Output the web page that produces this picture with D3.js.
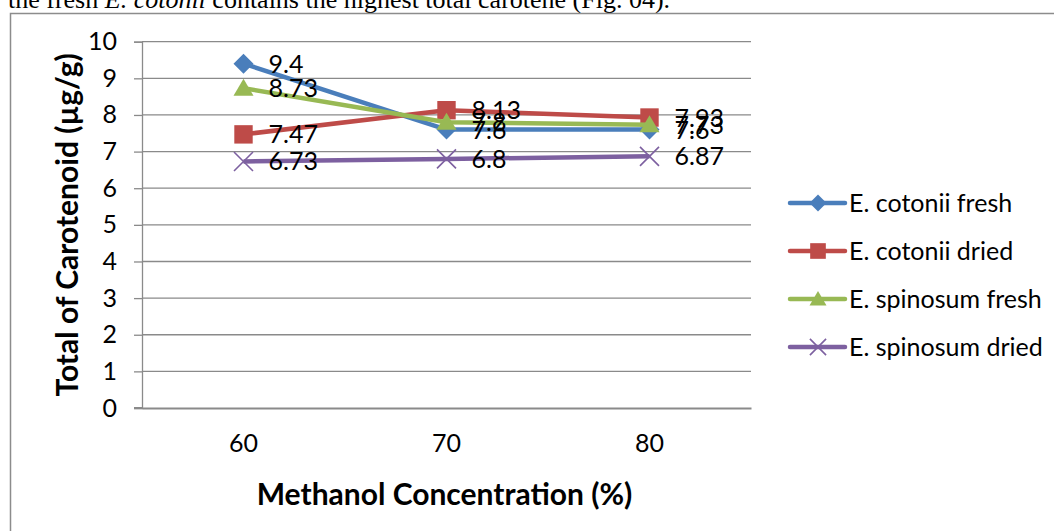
<!DOCTYPE html>
<html>
<head>
<meta charset="utf-8">
<script src="https://cdn.jsdelivr.net/npm/d3@7"></script>
<style>
  html, body { margin: 0; padding: 0; background: #fff; overflow: hidden; }
  svg { display: block; }
</style>
</head>
<body>
<svg id="chart" width="1054" height="531"></svg>
<script>
// Methanol concentration levels (%)
const concentrations = ["60", "70", "80"];

// Total carotenoid (µg/g) per sample type
const cotoniiFresh   = [9.4, 7.6, 7.6];
const cotoniiDried   = [7.47, 8.13, 7.93];
const spinosumFresh  = [8.73, 7.8, 7.73];
const spinosumDried  = [6.73, 6.8, 6.87];

const seriesNames  = ["E. cotonii fresh", "E. cotonii dried", "E. spinosum fresh", "E. spinosum dried"];
const seriesColors = ["#4A7EBB", "#BE4B48", "#98B954", "#7D60A0"];
const seriesMarks  = ["diamond", "square", "triangle", "cross"];
const yTicks = [0, 1, 2, 3, 4, 5, 6, 7, 8, 9, 10];

const seriesValues = [cotoniiFresh, cotoniiDried, spinosumFresh, spinosumDried];
const series = seriesNames.map((name, i) => ({
  name, color: seriesColors[i], mark: seriesMarks[i],
  values: seriesValues[i].map((v, j) => ({ cat: concentrations[j], v }))
}));

const svg = d3.select("#chart");
const FONT = "Lato, 'Open Sans', sans-serif";
const LABEL_SIZE = 25;

// Running text of the page above the figure
const para = svg.append("text")
  .attr("x", 8).attr("y", 8)
  .attr("font-family", "'Liberation Serif', 'Times New Roman', serif")
  .attr("font-size", 26)
  .attr("fill", "#000");
para.append("tspan").text("the fresh ");
para.append("tspan").attr("font-style", "italic").text("E. cotonii");
para.append("tspan").text(" contains the highest total carotene (Fig. 04).");

// Chart frame
svg.append("rect")
  .attr("x", 10.5).attr("y", 13.5)
  .attr("width", 1100).attr("height", 600)
  .attr("fill", "#fff")
  .attr("stroke", "#8c8c8c").attr("stroke-width", 1.5);

// Plot area
const plot = { left: 142, right: 751, top: 41.7, bottom: 408 };

const x = d3.scaleBand().domain(concentrations).range([plot.left, plot.right]);
const y = d3.scaleLinear().domain([0, 10]).range([plot.bottom, plot.top]);
const cx = c => x(c) + x.bandwidth() / 2;

// Horizontal gridlines
svg.append("g")
  .selectAll("line")
  .data(yTicks.filter(t => t > 0))
  .join("line")
  .attr("x1", plot.left).attr("x2", plot.right)
  .attr("y1", d => y(d)).attr("y2", d => y(d))
  .attr("stroke", "#8a8a8a").attr("stroke-width", 1.3);

// Y axis
const yAxis = svg.append("g")
  .attr("transform", `translate(${plot.left},0)`)
  .call(d3.axisLeft(y).tickValues(yTicks).tickSize(8).tickPadding(17).tickFormat(d3.format("d")));
yAxis.select(".domain").attr("stroke", "#8a8a8a").attr("stroke-width", 1.3);
yAxis.selectAll(".tick line").attr("stroke", "#8a8a8a").attr("stroke-width", 1.3);
yAxis.selectAll(".tick text")
  .attr("font-family", FONT).attr("font-size", LABEL_SIZE).attr("fill", "#000");

// X axis
const xAxis = svg.append("g")
  .attr("transform", `translate(0,${plot.bottom})`)
  .call(d3.axisBottom(x).tickSize(0).tickPadding(26));
xAxis.select(".domain").attr("stroke", "#8a8a8a").attr("stroke-width", 2);
xAxis.selectAll(".tick text")
  .attr("font-family", FONT).attr("font-size", LABEL_SIZE).attr("fill", "#000");
// Axis baseline extends left to meet the zero tick
svg.append("line")
  .attr("x1", plot.left - 8).attr("x2", plot.left)
  .attr("y1", y(0)).attr("y2", y(0))
  .attr("stroke", "#8a8a8a").attr("stroke-width", 2);

// Axis titles
svg.append("text")
  .attr("transform", `translate(78,${(plot.top + plot.bottom) / 2}) rotate(-90)`)
  .attr("text-anchor", "middle")
  .attr("font-family", FONT).attr("font-weight", "bold").attr("font-size", 30)
  .attr("fill", "#000")
  .text("Total of Carotenoid (µg/g)");

svg.append("text")
  .attr("x", (plot.left + plot.right) / 2 - 2).attr("y", 505)
  .attr("text-anchor", "middle")
  .attr("font-family", FONT).attr("font-weight", "bold").attr("font-size", 30)
  .attr("fill", "#000")
  .text("Methanol Concentration (%)");

// Marker drawing
function drawMarker(g, mark, color, s) {
  if (mark === "diamond") {
    g.append("path").attr("d", `M0,${-s}L${s},0L0,${s}L${-s},0Z`).attr("fill", color);
  } else if (mark === "square") {
    const h = s * 0.92;
    g.append("rect").attr("x", -h).attr("y", -h).attr("width", 2 * h).attr("height", 2 * h).attr("fill", color);
  } else if (mark === "triangle") {
    g.append("path").attr("d", `M0,${-s * 0.95}L${s},${s * 0.75}L${-s},${s * 0.75}Z`).attr("fill", color);
  } else if (mark === "cross") {
    const h = s * 0.95;
    g.append("path").attr("d", `M${-h},${-h}L${h},${h}M${-h},${h}L${h},${-h}`)
      .attr("stroke", color).attr("stroke-width", 1.6).attr("fill", "none");
  }
}

const line = d3.line().x(d => cx(d.cat)).y(d => y(d.v));

// Series lines and markers
series.forEach(s => {
  const g = svg.append("g");
  g.append("path")
    .datum(s.values)
    .attr("d", line)
    .attr("fill", "none")
    .attr("stroke", s.color)
    .attr("stroke-width", 4.5)
    .attr("stroke-linejoin", "round");
  s.values.forEach(d => {
    const m = g.append("g").attr("transform", `translate(${cx(d.cat)},${y(d.v)})`);
    drawMarker(m, s.mark, s.color, 10);
  });
});

// Value labels to the right of each point
series.forEach(s => {
  svg.append("g")
    .selectAll("text")
    .data(s.values)
    .join("text")
    .attr("x", d => cx(d.cat) + 25)
    .attr("y", d => y(d.v))
    .attr("dy", "0.36em")
    .attr("font-family", FONT).attr("font-size", LABEL_SIZE).attr("fill", "#000")
    .text(d => d3.format("")(d.v));
});

// Legend
const legend = svg.append("g");
series.forEach((s, i) => {
  const yy = 203 + i * 48;
  const g = legend.append("g").attr("transform", `translate(0,${yy})`);
  g.append("line")
    .attr("x1", 790).attr("x2", 845).attr("y1", 0).attr("y2", 0)
    .attr("stroke", s.color).attr("stroke-width", 4.5).attr("stroke-linecap", "round");
  const m = g.append("g").attr("transform", "translate(818,0)");
  drawMarker(m, s.mark, s.color, 8.5);
  g.append("text")
    .attr("x", 849).attr("y", 0).attr("dy", "0.36em")
    .attr("font-family", FONT).attr("font-size", LABEL_SIZE).attr("fill", "#000")
    .text(s.name);
});
</script>
</body>
</html>
